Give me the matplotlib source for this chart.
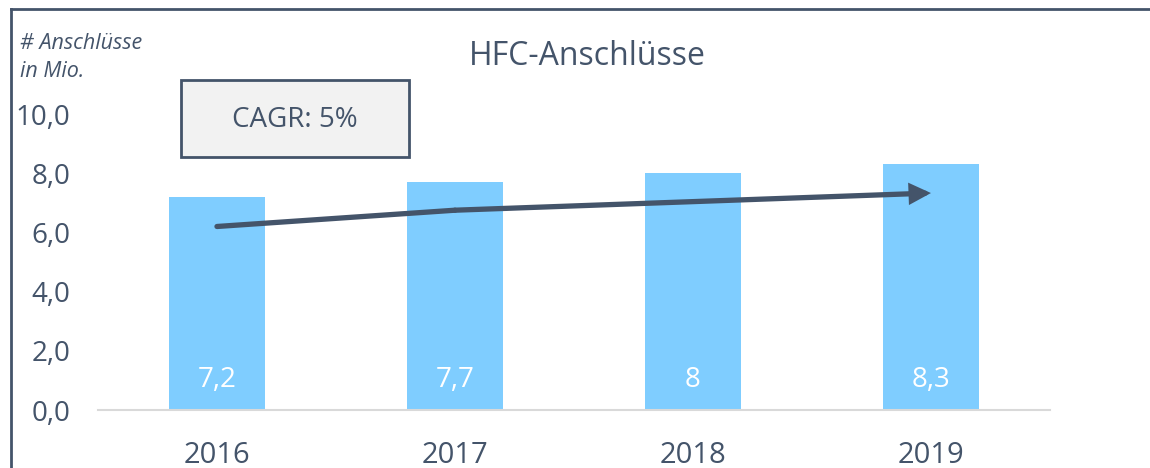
import matplotlib.pyplot as plt
from matplotlib.patches import Rectangle
from matplotlib.lines import Line2D

# Daten
jahre = ["2016", "2017", "2018", "2019"]
anschluesse = [7.2, 7.7, 8.0, 8.3]
bar_labels = ["7,2", "7,7", "8", "8,3"]
trend = [6.2, 6.75, 7.33]   # Pfeil: Start, Knick, Spitze
y_ticks = [0, 2, 4, 6, 8, 10]

TEXT = "#44546A"
BLAU = "#7FCDFF"

plt.rcParams["font.family"] = ["Open Sans", "DejaVu Sans"]

fig = plt.figure(figsize=(11.5, 4.68), dpi=100)
ax = fig.add_axes([0.0852, 0.1239, 0.8278, 0.6325])

x = [i + 0.5 for i in range(len(jahre))]
ax.bar(x, anschluesse, width=0.4, color=BLAU, zorder=2)

for xi, lab in zip(x, bar_labels):
    ax.text(xi, 1.0, lab, ha="center", va="center", color="white", fontsize=20)

# Trendpfeil
ax.plot([x[0], x[1]], trend[:2], color=TEXT, lw=3.8, solid_capstyle="round", zorder=3)
ax.annotate("", xy=(x[3], trend[2]), xytext=(x[1], trend[1]),
            arrowprops=dict(arrowstyle="-|>,head_length=1.0,head_width=0.5",
                            color=TEXT, lw=3.8, shrinkA=0, shrinkB=0,
                            joinstyle="miter"),
            zorder=3)

ax.set_xlim(0, 4)
ax.set_ylim(0, 10)
ax.set_xticks(x)
ax.set_xticklabels(jahre)
ax.set_yticks(y_ticks)
ax.set_yticklabels([f"{v:.1f}".replace(".", ",") for v in y_ticks])
ax.tick_params(length=0, colors=TEXT)
ax.tick_params(axis="x", labelsize=21, pad=22)
ax.tick_params(axis="y", labelsize=20, pad=20)
for s in ["top", "right", "left"]:
    ax.spines[s].set_visible(False)
ax.spines["bottom"].set_color("#D9D9D9")
ax.spines["bottom"].set_linewidth(1.5)

fig.text(0.511, 0.88, "HFC-Anschlüsse", ha="center", va="center",
         fontsize=23, color=TEXT)
fig.text(0.017, 0.907, "# Anschlüsse", ha="left", va="center",
         fontsize=15.5, style="italic", color=TEXT)
fig.text(0.017, 0.848, "in Mio.", ha="left", va="center",
         fontsize=15.5, style="italic", color=TEXT)

# CAGR-Box
box = Rectangle((181 / 1150, 1 - 157 / 468), 228 / 1150, 77 / 468,
                transform=fig.transFigure, facecolor="#F2F2F2",
                edgecolor=TEXT, lw=2)
fig.patches.append(box)
fig.text(295 / 1150, 1 - 120 / 468, "CAGR: 5%", ha="center", va="center",
         fontsize=20, color=TEXT)

# Rahmen links und oben
fig.lines.append(Line2D([11 / 1150, 11 / 1150], [0, 1 - 9 / 468],
                        transform=fig.transFigure, color=TEXT, lw=2))
fig.lines.append(Line2D([11 / 1150, 1], [1 - 9 / 468, 1 - 9 / 468],
                        transform=fig.transFigure, color=TEXT, lw=2))

fig.savefig("out.png", dpi=100)
